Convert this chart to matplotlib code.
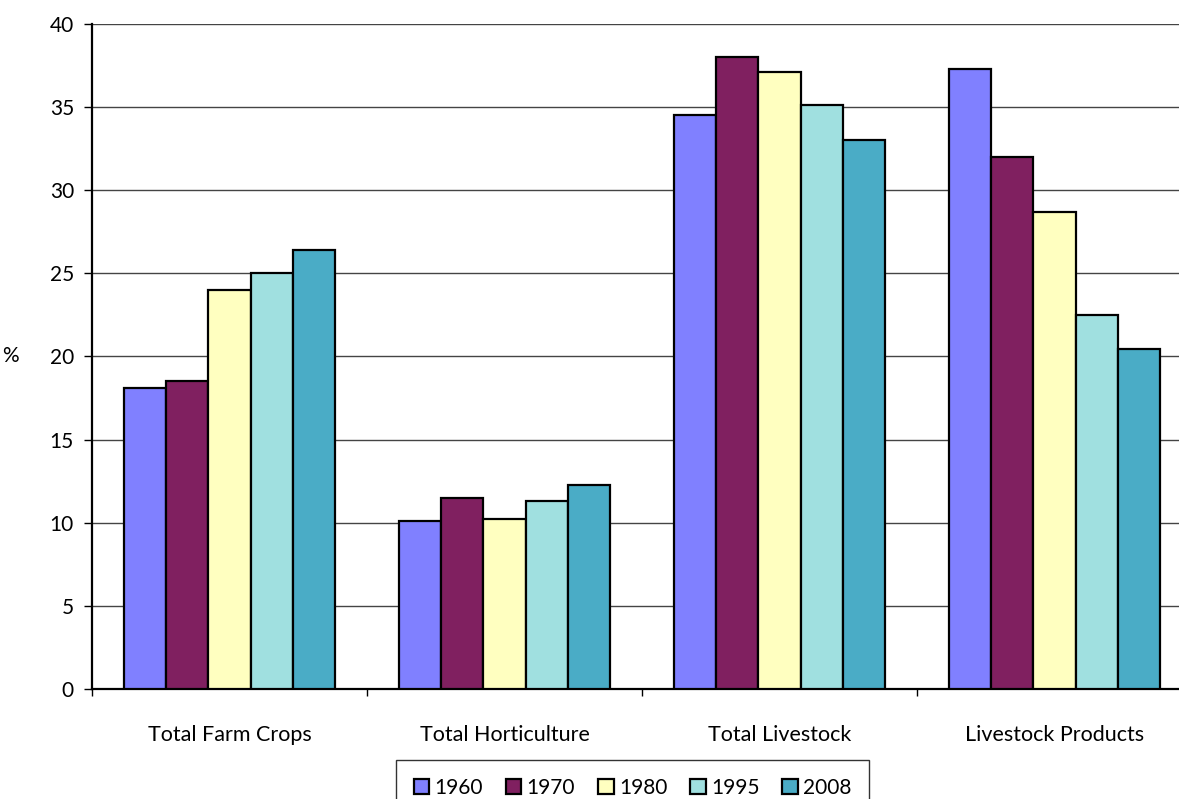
import numpy as np
import matplotlib
matplotlib.use("Agg")
import matplotlib.pyplot as plt
from matplotlib.ticker import FixedLocator, NullFormatter

categories = ["Total Farm Crops", "Total Horticulture", "Total Livestock", "Livestock Products"]
years = ["1960", "1970", "1980", "1995", "2008"]
v1960 = [18.1, 10.1, 34.5, 37.3]
v1970 = [18.5, 11.5, 38.0, 32.0]
v1980 = [24.0, 10.2, 37.1, 28.7]
v1995 = [25.0, 11.3, 35.15, 22.5]
v2008 = [26.4, 12.25, 33.05, 20.45]
series = [v1960, v1970, v1980, v1995, v2008]
colors = ["#8080ff", "#802060", "#ffffc0", "#a0e0e0", "#4aacc6"]

plt.rcParams['font.family'] = ['Lato', 'DejaVu Sans']

fig = plt.figure(figsize=(11.79, 7.99), dpi=100)
ax = fig.add_axes([0.078, 0.1377, 0.933, 0.8323])

x = np.arange(len(categories))
w = 0.153
for i, (vals, c, yr) in enumerate(zip(series, colors, years)):
    ax.bar(x + (i - 2) * w, vals, width=w, color=c, edgecolor="black",
           linewidth=1.6, label=yr, zorder=3)

ax.set_xlim(-0.5, len(categories) - 0.5)
ax.set_ylim(0, 40)
ax.set_yticks(np.arange(0, 41, 5))
ax.yaxis.grid(True, color="#444444", linewidth=1.0, zorder=0)
ax.set_axisbelow(True)

ax.set_xticks(x)
ax.set_xticklabels(categories, fontsize=15.5)
ax.tick_params(axis="x", length=0, pad=26)
ax.xaxis.set_minor_locator(FixedLocator(np.arange(-0.5, len(categories), 1)))
ax.xaxis.set_minor_formatter(NullFormatter())
ax.tick_params(axis="x", which="minor", length=5, width=1, direction="out")
ax.tick_params(axis="y", labelsize=15, length=6, width=1, pad=7)

for s in ["top", "right"]:
    ax.spines[s].set_visible(False)
ax.spines["left"].set_linewidth(1.6)
ax.spines["bottom"].set_linewidth(1.6)

ax.set_ylabel("%", fontsize=15, rotation=0, labelpad=28, va="center")

leg = ax.legend(loc="upper center", bbox_to_anchor=(0.4915, -0.091), ncol=5,
                fontsize=15, frameon=True, fancybox=False, edgecolor="black",
                handlelength=0.75, handleheight=0.75, handletextpad=0.25,
                columnspacing=1.1, borderpad=0.85)
leg.get_frame().set_linewidth(1.0)

fig.savefig("out.png", dpi=100)
